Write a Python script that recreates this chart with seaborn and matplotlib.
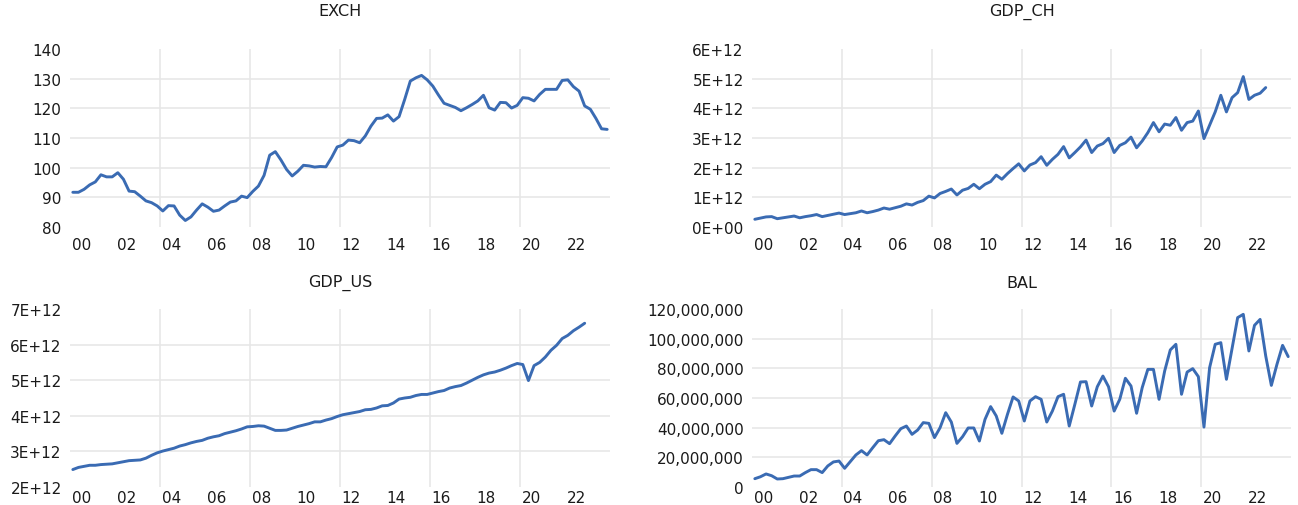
import numpy as np
import pandas as pd
import matplotlib
matplotlib.use("Agg")
import matplotlib.pyplot as plt
import seaborn as sns

# Quarterly series, 2000Q1 onwards
EXCH = [91.7, 91.7, 92.7, 94.2, 95.2, 97.6, 96.9, 96.9,
        98.3, 96.1, 92.1, 91.9, 90.4, 88.8, 88.2, 87.1,
        85.4, 87.2, 87.1, 84.0, 82.2, 83.4, 85.7, 87.8,
        86.7, 85.3, 85.7, 87.1, 88.4, 88.8, 90.4, 89.9,
        92.0, 93.8, 97.4, 104.2, 105.4, 102.6, 99.4, 97.2,
        98.8, 100.8, 100.6, 100.2, 100.4, 100.3, 103.4, 107.0,
        107.6, 109.3, 109.1, 108.4, 110.7, 114.0, 116.6, 116.7,
        117.8, 115.7, 117.2, 123.0, 129.2, 130.3, 131.1, 129.6,
        127.5, 124.5, 121.7, 121.0, 120.3, 119.2, 120.2, 121.3,
        122.5, 124.4, 120.2, 119.4, 122.0, 121.9, 120.1, 121.0,
        123.6, 123.4, 122.5, 124.7, 126.4, 126.4, 126.4, 129.4,
        129.6, 127.3, 125.8, 120.8, 119.7, 116.6, 113.1, 112.9]

# trillions (x 1e12)
GDP_CH = [0.26, 0.30, 0.34, 0.35, 0.28, 0.31, 0.34, 0.37,
          0.31, 0.35, 0.38, 0.42, 0.35, 0.39, 0.43, 0.47,
          0.42, 0.45, 0.48, 0.54, 0.48, 0.52, 0.57, 0.64,
          0.60, 0.65, 0.70, 0.78, 0.74, 0.83, 0.89, 1.04,
          0.98, 1.13, 1.20, 1.28, 1.08, 1.24, 1.30, 1.44,
          1.29, 1.44, 1.53, 1.75, 1.61, 1.80, 1.97, 2.13,
          1.89, 2.09, 2.17, 2.37, 2.08, 2.28, 2.45, 2.71,
          2.33, 2.51, 2.70, 2.93, 2.51, 2.73, 2.81, 2.99,
          2.51, 2.75, 2.84, 3.03, 2.67, 2.90, 3.18, 3.52,
          3.21, 3.47, 3.43, 3.69, 3.26, 3.52, 3.57, 3.91,
          2.98, 3.43, 3.88, 4.44, 3.88, 4.36, 4.53, 5.07,
          4.30, 4.44, 4.51, 4.70]

GDP_US = [2.49, 2.55, 2.58, 2.61, 2.61, 2.63, 2.64, 2.65,
          2.68, 2.71, 2.74, 2.75, 2.76, 2.81, 2.89, 2.96,
          3.01, 3.05, 3.09, 3.15, 3.19, 3.24, 3.28, 3.31,
          3.37, 3.41, 3.44, 3.50, 3.54, 3.58, 3.63, 3.69,
          3.70, 3.72, 3.71, 3.65, 3.59, 3.59, 3.60, 3.65,
          3.70, 3.74, 3.78, 3.83, 3.83, 3.88, 3.92, 3.98,
          4.03, 4.06, 4.09, 4.12, 4.17, 4.18, 4.22, 4.28,
          4.29, 4.36, 4.47, 4.50, 4.52, 4.57, 4.60, 4.60,
          4.64, 4.68, 4.71, 4.78, 4.82, 4.85, 4.92, 5.00,
          5.08, 5.15, 5.20, 5.23, 5.28, 5.34, 5.41, 5.47,
          5.44, 4.99, 5.41, 5.50, 5.65, 5.84, 5.98, 6.17,
          6.26, 6.39, 6.49, 6.60]

# millions (x 1e6)
BAL = [5.6, 6.9, 8.8, 7.6, 5.4, 5.6, 6.5, 7.4,
       7.4, 9.7, 11.7, 11.7, 9.7, 14.2, 16.9, 17.5,
       12.6, 17.1, 21.6, 24.5, 21.6, 26.5, 31.2, 31.9,
       29.2, 34.4, 39.3, 41.1, 35.5, 38.4, 43.4, 42.9,
       33.3, 40.0, 50.1, 43.8, 29.4, 33.9, 39.8, 39.8,
       31.0, 45.6, 54.2, 47.9, 36.2, 49.0, 60.7, 58.0,
       44.5, 58.0, 60.9, 59.1, 43.8, 51.2, 60.9, 62.5,
       41.1, 55.7, 70.8, 71.0, 54.6, 67.6, 74.8, 67.6,
       51.2, 59.1, 73.3, 68.1, 49.7, 67.0, 79.3, 79.3,
       59.1, 78.2, 92.4, 96.2, 62.5, 77.5, 79.8, 74.4,
       40.4, 80.4, 96.2, 97.3, 72.6, 93.3, 114.2, 116.4,
       91.7, 109.0, 113.0, 88.3, 68.5, 82.7, 95.5, 87.9]

LABEL_YEARS = list(range(2000, 2024, 2))
GRID_YEARS = [2004, 2008, 2012, 2016, 2020]
LINE_COLOR = "#3a6bb3"
GRID_COLOR = "#e6e6e6"


def quarterly(values, scale):
    n = len(values)
    # mid-quarter position on a decimal-year axis
    t = 2000 + np.arange(n) / 4 + 0.125
    return pd.DataFrame({"t": t, "v": np.array(values) * scale})


def fmt_plain(v):
    return f"{v:.0f}"


def fmt_sci(v):
    return f"{v:.0E}"


def fmt_comma(v):
    return f"{v:,.0f}"


panels = [
    ("EXCH", EXCH, 1, [80, 90, 100, 110, 120, 130, 140], fmt_plain),
    ("GDP_CH", GDP_CH, 1e12, [i * 1e12 for i in range(0, 7)], fmt_sci),
    ("GDP_US", GDP_US, 1e12, [i * 1e12 for i in range(2, 8)], fmt_sci),
    ("BAL", BAL, 1e6, [i * 2e7 for i in range(0, 7)], fmt_comma),
]

sns.set_theme(style="white")
plt.rcParams["font.family"] = ["DejaVu Sans"]

W, H = 1298, 506
fig = plt.figure(figsize=(W / 100, H / 100), dpi=100)

# pixel boxes: left, right, top, bottom
boxes = [(70, 610, 50, 228), (752, 1291, 50, 228),
         (70, 610, 310, 488), (752, 1291, 310, 488)]
title_y = [12, 12, 283, 283]
xpads = [7, 7, 2.5, 2.5]

for (name, vals, scale, yt, fmt), (l, r, t, b), ty, xp in zip(panels, boxes, title_y, xpads):
    ax = fig.add_axes([l / W, 1 - b / H, (r - l) / W, (b - t) / H])
    df = quarterly(vals, scale)
    sns.lineplot(data=df, x="t", y="v", ax=ax, color=LINE_COLOR, linewidth=2.1)
    ax.set_xlim(2000, 2024)
    ax.set_ylim(yt[0], yt[-1])
    ax.set_yticks(yt)
    ax.set_yticklabels([fmt(v) for v in yt])
    ax.set_xticks([y + 0.5 for y in LABEL_YEARS])
    ax.set_xticklabels([f"{y % 100:02d}" for y in LABEL_YEARS])
    ax.set_xticks(GRID_YEARS, minor=True)
    ax.set_xlabel("")
    ax.set_ylabel("")
    ax.grid(False)
    ax.grid(axis="y", which="major", color=GRID_COLOR, linewidth=1.1)
    ax.grid(axis="x", which="minor", color=GRID_COLOR, linewidth=1.1)
    gl = ax.yaxis.get_gridlines()
    gl[0].set_visible(False)
    gl[-1].set_visible(False)
    ax.set_axisbelow(True)
    for s in ax.spines.values():
        s.set_visible(False)
    ax.tick_params(axis="both", which="both", length=0, labelsize=11,
                   labelcolor="#1a1a1a")
    ax.tick_params(axis="y", pad=6)
    ax.tick_params(axis="x", pad=xp)
    fig.text((l + r) / 2 / W, 1 - ty / H, name, ha="center", va="center",
             fontsize=11.5, color="#1a1a1a")

fig.savefig("out.png", dpi=100)
